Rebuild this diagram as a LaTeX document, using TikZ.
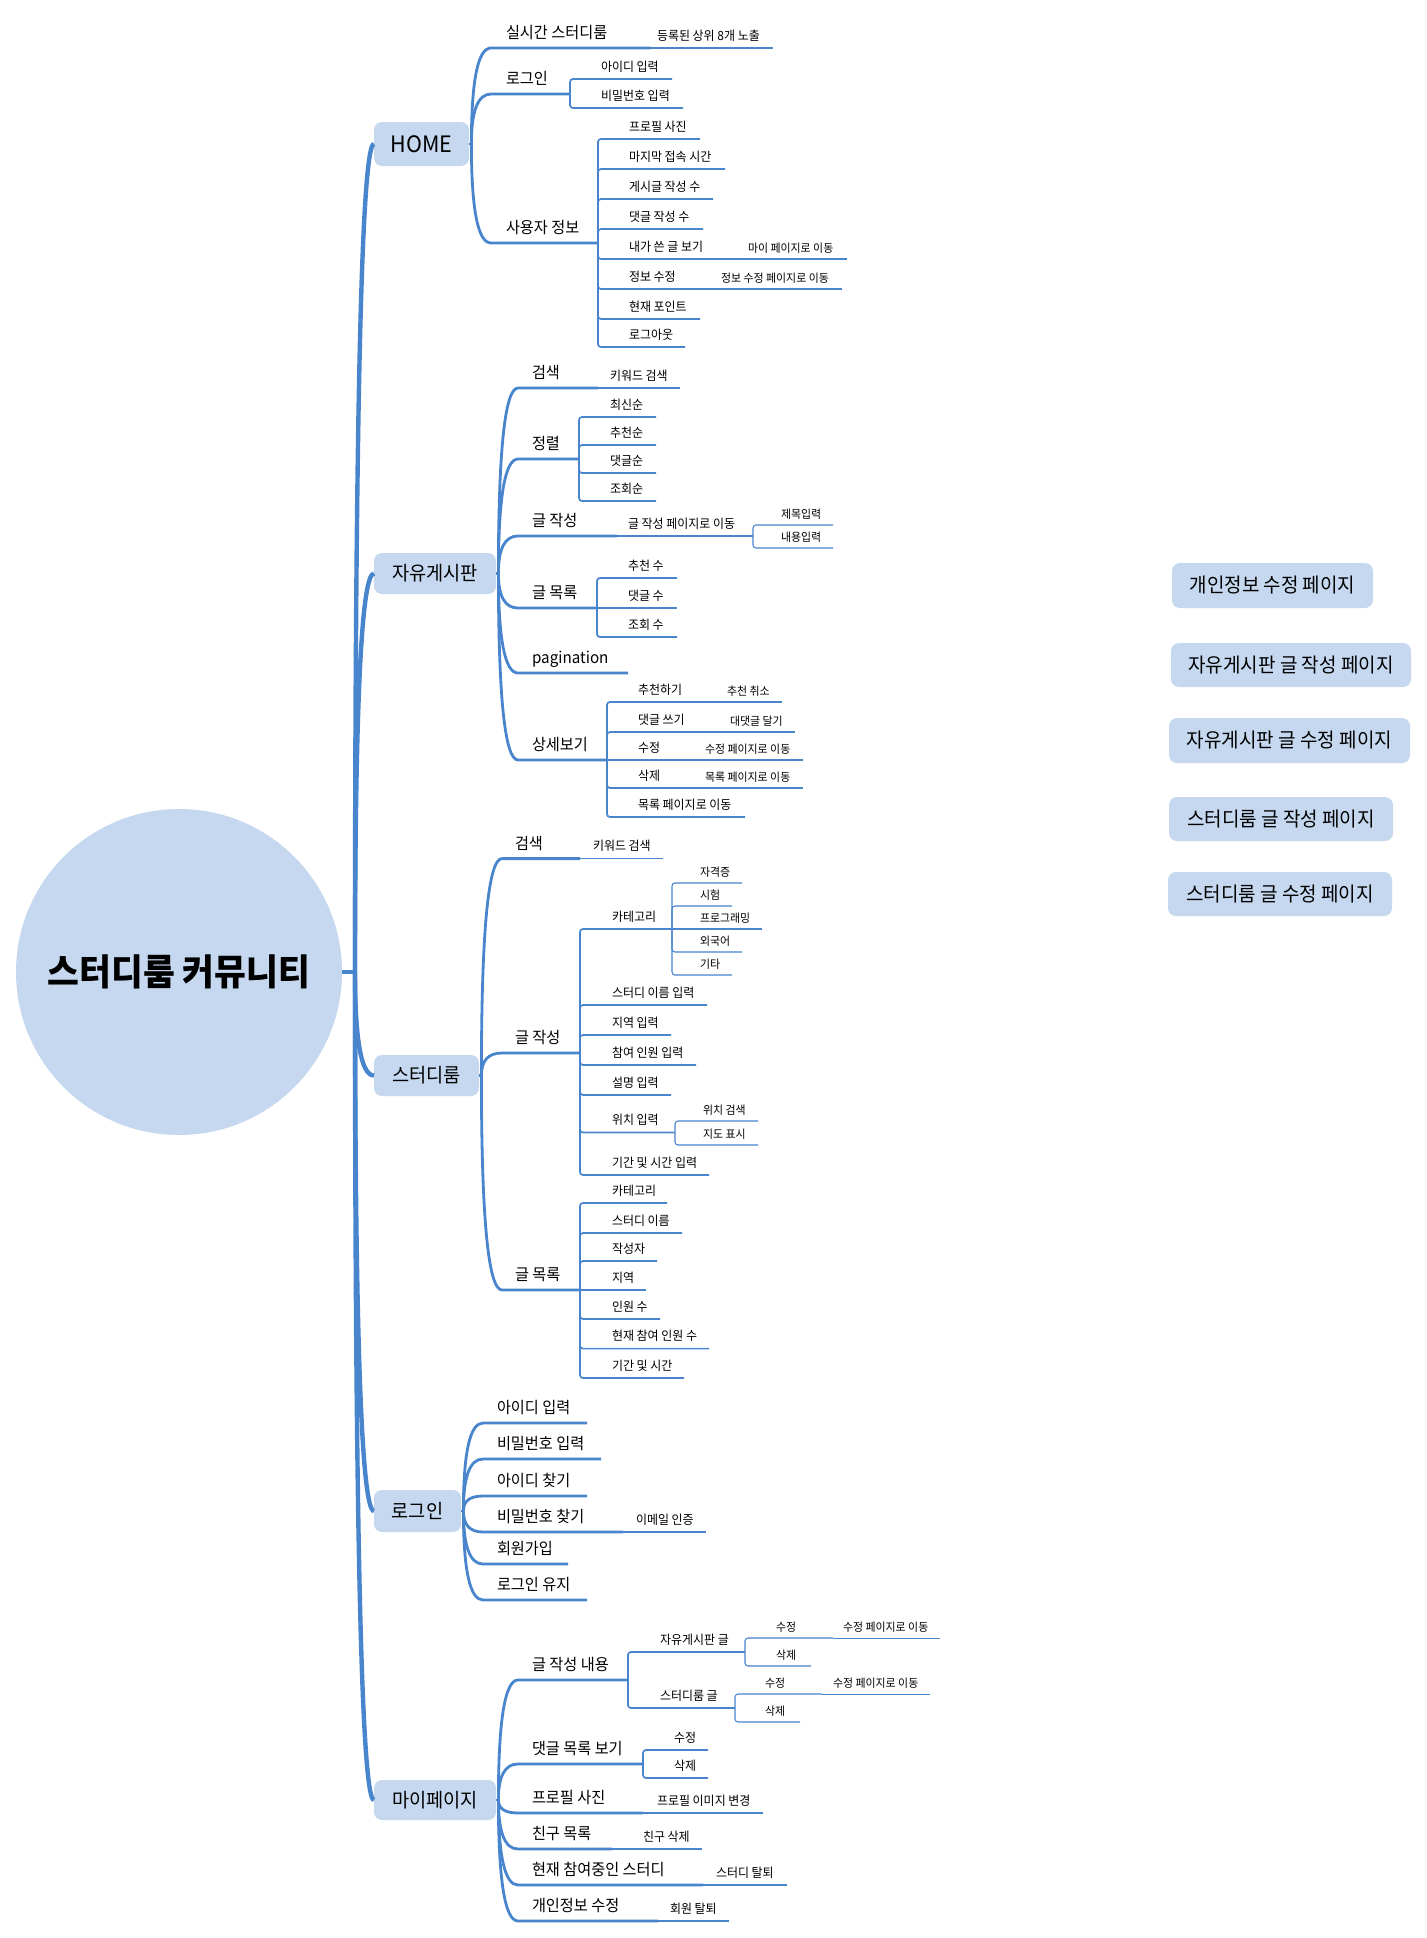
\documentclass[tikz,border=0pt]{standalone}
\usepackage{fontspec}
\setmainfont{Noto Sans CJK KR}[FakeStretch=0.95]
\usetikzlibrary{calc}
\definecolor{branchblue}{RGB}{72,133,205}
\definecolor{topicfill}{RGB}{197,216,239}

% main branch: smooth curve from a parent point into a child, then its underline
\newcommand\mmmain[7]{% from, name, curve end x, y, underline end x, text x, text
  \coordinate (#2-a) at (#3,#4);
  \coordinate (#2-b) at (#5,#4);
  \node[t2] (#2) at (#6,#4) {#7};
  \path[w2] let \p1=(#1), \p2=(#2-a) in
    (\p1) .. controls (\x1,{\y1+0.667*(\y2-\y1)}) and ({\x1+0.333*(\x2-\x1)},\y2) .. (\p2) -- (#2-b);}
% sub branch: vertical spine with a rounded elbow into the underline
\newcommand\mmelbow[8]{% from, name, text style, line style, y, end x, text x, text
  \coordinate (#2-b) at (#6,#5);
  \node[#3] (#2) at (#7,#5) {#8};
  \draw[#4, rounded corners=1.5pt] (#1) |- (#2-b);}
% straight continuation on the same level
\newcommand\mmtail[8]{% from, name, text style, line style, y, end x, text x, text
  \coordinate (#2-b) at (#6,#5);
  \node[#3] (#2) at (#7,#5) {#8};
  \draw[#4] (#1) -- (#2-b);}
% trunk curve from the central topic into a main topic box
\newcommand\mmtrunk[2]{%
  \path[w1] let \p1=(#1), \p2=(#2) in
    (\p1) .. controls (\x1,{\y1+0.667*(\y2-\y1)}) and ({\x1+0.333*(\x2-\x1)},\y2) .. (\p2);}

\begin{document}
\begin{tikzpicture}[
  x=0.5pt, y=-0.5pt,
  every node/.style={inner sep=0pt, outer sep=0pt, text=black},
  t2/.style={font=\fontsize{8pt}{9pt}\selectfont, anchor=base west, yshift=4.75pt},
  t3/.style={font=\fontsize{6.3pt}{7pt}\selectfont, anchor=base west, yshift=4pt},
  t4/.style={font=\fontsize{5.75pt}{6.5pt}\selectfont, anchor=base west, yshift=3.5pt},
  topic/.style={font=\fontsize{9.8pt}{11pt}\selectfont, fill=topicfill, rounded corners=4pt},
  pagebox/.style={font=\fontsize{10pt}{11pt}\selectfont, fill=topicfill, rounded corners=4pt},
  w1/.style={draw=branchblue, line width=2.2pt},
  w2/.style={draw=branchblue, line width=1.4pt},
  w3/.style={draw=branchblue, line width=0.85pt},
  w4/.style={draw=branchblue, line width=0.55pt},
  w5/.style={draw=branchblue, line width=0.45pt},
]
\fill[white] (0,0) rectangle (1427,1938);
\useasboundingbox (0,0) rectangle (1427,1938);

% central topic
\node[circle, fill=topicfill, minimum size=163pt,
      font=\bfseries\fontsize{18.2pt}{20pt}\selectfont] (root) at (179,972) {스터디룸 커뮤니티};
\coordinate (trunk) at (355,972);

% main topics
\node[topic, minimum width=47.5pt, minimum height=22pt, font=\fontsize{11.3pt}{12pt}\selectfont] (home) at (421.5,144) {HOME};
\node[topic, minimum width=61pt, minimum height=20.5pt] (free) at (435,573.5) {자유게시판};
\node[topic, minimum width=52.5pt, minimum height=20.5pt] (study) at (426.5,1075.5) {스터디룸};
\node[topic, minimum width=43.5pt, minimum height=21pt] (login) at (417.5,1511) {로그인};
\node[topic, minimum width=61pt, minimum height=20pt] (mypage) at (435,1800) {마이페이지};

\draw[w1] (root.east) -- (trunk);
\mmtrunk{trunk}{home.west}
\mmtrunk{trunk}{free.west}
\mmtrunk{trunk}{study.west}
\mmtrunk{trunk}{login.west}
\mmtrunk{trunk}{mypage.west}

\foreach \t in {home,free,study,login,mypage}{
  \coordinate (\t-s) at ([xshift=1.2pt]\t.east);
  \draw[w2] (\t.east) -- (\t-s);
}

% HOME
\mmmain{home-s}{rt}{491}{48}{650}{506}{실시간 스터디룸}
\mmtail{rt-b}{rtx}{t3}{w4}{48}{773}{657}{등록된 상위 8개 노출}
\mmmain{home-s}{hl}{491}{94}{570}{506}{로그인}
\mmelbow{hl-b}{hlid}{t3}{w3}{79}{672}{601}{아이디 입력}
\mmelbow{hl-b}{hlpw}{t3}{w3}{108}{683}{601}{비밀번호 입력}
\mmmain{home-s}{ui}{491}{243}{598}{506}{사용자 정보}
\mmelbow{ui-b}{ui1}{t3}{w3}{139}{700}{629}{프로필 사진}
\mmelbow{ui-b}{ui2}{t3}{w3}{169}{725}{629}{마지막 접속 시간}
\mmelbow{ui-b}{ui3}{t3}{w3}{199}{713}{629}{게시글 작성 수}
\mmelbow{ui-b}{ui4}{t3}{w3}{229}{703}{629}{댓글 작성 수}
\mmelbow{ui-b}{ui5}{t3}{w3}{259}{740}{629}{내가 쓴 글 보기}
\mmtail{ui5-b}{ui5x}{t4}{w4}{259}{847}{748}{마이 페이지로 이동}
\mmelbow{ui-b}{ui6}{t3}{w3}{289}{710}{629}{정보 수정}
\mmtail{ui6-b}{ui6x}{t4}{w4}{289}{842}{721}{정보 수정 페이지로 이동}
\mmelbow{ui-b}{ui7}{t3}{w3}{319}{700}{629}{현재 포인트}
\mmelbow{ui-b}{ui8}{t3}{w3}{347}{685}{629}{로그아웃}

% free board
\mmmain{free-s}{fs}{518}{388}{598}{532}{검색}
\mmtail{fs-b}{fsx}{t3}{w3}{388}{680}{610}{키워드 검색}
\mmmain{free-s}{fo}{518}{459}{579}{532}{정렬}
\mmelbow{fo-b}{fo1}{t3}{w3}{417}{656}{610}{최신순}
\mmelbow{fo-b}{fo2}{t3}{w3}{445}{656}{610}{추천순}
\mmelbow{fo-b}{fo3}{t3}{w3}{473}{656}{610}{댓글순}
\mmelbow{fo-b}{fo4}{t3}{w3}{501}{656}{610}{조회순}
\mmmain{free-s}{fw}{518}{536}{617}{532}{글 작성}
\mmtail{fw-b}{fwx}{t3}{w3}{536}{753}{628}{글 작성 페이지로 이동}
\mmelbow{fwx-b}{fw1}{t4}{w4}{525}{833}{781}{제목입력}
\mmelbow{fwx-b}{fw2}{t4}{w4}{548}{833}{781}{내용입력}
\mmmain{free-s}{fl}{518}{608}{597}{532}{글 목록}
\mmelbow{fl-b}{fl1}{t3}{w3}{578}{677}{628}{추천 수}
\mmtail{fl-b}{fl2}{t3}{w3}{608}{677}{628}{댓글 수}
\mmelbow{fl-b}{fl3}{t3}{w3}{637}{677}{628}{조회 수}
\mmmain{free-s}{fp}{518}{673}{628}{532}{pagination}
\mmmain{free-s}{fd}{518}{760}{607}{532}{상세보기}
\mmelbow{fd-b}{fd1}{t3}{w3}{702}{718}{638}{추천하기}
\mmtail{fd1-b}{fd1x}{t4}{w4}{702}{782}{727}{추천 취소}
\mmelbow{fd-b}{fd2}{t3}{w3}{732}{719}{638}{댓글 쓰기}
\mmtail{fd2-b}{fd2x}{t4}{w4}{732}{795}{730}{대댓글 달기}
\mmtail{fd-b}{fd3}{t3}{w3}{760}{693}{638}{수정}
\mmtail{fd3-b}{fd3x}{t4}{w4}{760}{803}{705}{수정 페이지로 이동}
\mmelbow{fd-b}{fd4}{t3}{w3}{788}{693}{638}{삭제}
\mmtail{fd4-b}{fd4x}{t4}{w4}{788}{803}{705}{목록 페이지로 이동}
\mmelbow{fd-b}{fd5}{t3}{w3}{817}{745}{638}{목록 페이지로 이동}

% study room
\mmmain{study-s}{ss}{502}{858.6}{580}{515}{검색}
\mmtail{ss-b}{ssx}{t3}{w3}{858.6}{663}{593}{키워드 검색}
\mmmain{study-s}{sw}{502}{1053}{580}{515}{글 작성}
\mmelbow{sw-b}{sw1}{t3}{w3}{929}{672}{612}{카테고리}
\mmelbow{sw1-b}{sc1}{t4}{w4}{883}{742}{700}{자격증}
\mmelbow{sw1-b}{sc2}{t4}{w4}{906}{732}{700}{시험}
\mmtail{sw1-b}{sc3}{t4}{w4}{929}{762}{700}{프로그래밍}
\mmelbow{sw1-b}{sc4}{t4}{w4}{952}{742}{700}{외국어}
\mmelbow{sw1-b}{sc5}{t4}{w4}{975}{732}{700}{기타}
\mmelbow{sw-b}{sw2}{t3}{w3}{1005}{707}{612}{스터디 이름 입력}
\mmelbow{sw-b}{sw3}{t3}{w3}{1035}{671}{612}{지역 입력}
\mmelbow{sw-b}{sw4}{t3}{w3}{1065}{696}{612}{참여 인원 입력}
\mmelbow{sw-b}{sw5}{t3}{w3}{1095}{671}{612}{설명 입력}
\mmelbow{sw-b}{sw6}{t3}{w3}{1132.5}{675}{612}{위치 입력}
\mmelbow{sw6-b}{sp1}{t4}{w4}{1121}{758}{703}{위치 검색}
\mmelbow{sw6-b}{sp2}{t4}{w4}{1145}{758}{703}{지도 표시}
\mmelbow{sw-b}{sw7}{t3}{w3}{1175}{709}{612}{기간 및 시간 입력}
\mmmain{study-s}{sl}{502}{1290}{580}{515}{글 목록}
\mmelbow{sl-b}{sg1}{t3}{w3}{1203}{667}{612}{카테고리}
\mmelbow{sl-b}{sg2}{t3}{w3}{1233}{682}{612}{스터디 이름}
\mmelbow{sl-b}{sg3}{t3}{w3}{1261}{657}{612}{작성자}
\mmtail{sl-b}{sg4}{t3}{w3}{1290}{646}{612}{지역}
\mmelbow{sl-b}{sg5}{t3}{w3}{1319}{660}{612}{인원 수}
\mmelbow{sl-b}{sg6}{t3}{w3}{1348.6}{709}{612}{현재 참여 인원 수}
\mmelbow{sl-b}{sg7}{t3}{w3}{1378}{684}{612}{기간 및 시간}

% login
\mmmain{login-s}{l1}{483}{1423}{587}{497}{아이디 입력}
\mmmain{login-s}{l2}{483}{1459}{601}{497}{비밀번호 입력}
\mmmain{login-s}{l3}{483}{1496}{587}{497}{아이디 찾기}
\mmmain{login-s}{l4}{483}{1532}{623}{497}{비밀번호 찾기}
\mmtail{l4-b}{l4x}{t3}{w3}{1532}{706}{636}{이메일 인증}
\mmmain{login-s}{l5}{483}{1564}{568}{497}{회원가입}
\mmmain{login-s}{l6}{483}{1600}{587}{497}{로그인 유지}

% my page
\mmmain{mypage-s}{mw}{518}{1680}{628}{532}{글 작성 내용}
\mmelbow{mw-b}{mw1}{t3}{w3}{1652}{745}{660}{자유게시판 글}
\mmelbow{mw1-b}{mw1a}{t4}{w4}{1638}{833}{776}{수정}
\mmtail{mw1a-b}{mw1ax}{t4}{w5}{1638}{940}{843}{수정 페이지로 이동}
\mmelbow{mw1-b}{mw1b}{t4}{w4}{1666}{811}{776}{삭제}
\mmelbow{mw-b}{mw2}{t3}{w3}{1708}{735}{660}{스터디룸 글}
\mmelbow{mw2-b}{mw2a}{t4}{w4}{1694}{822}{765}{수정}
\mmtail{mw2a-b}{mw2ax}{t4}{w5}{1694}{930}{833}{수정 페이지로 이동}
\mmelbow{mw2-b}{mw2b}{t4}{w4}{1722}{800}{765}{삭제}
\mmmain{mypage-s}{mc}{518}{1764}{643}{532}{댓글 목록 보기}
\mmelbow{mc-b}{mc1}{t3}{w3}{1750}{708}{674}{수정}
\mmelbow{mc-b}{mc2}{t3}{w3}{1778}{708}{674}{삭제}
\mmmain{mypage-s}{mp}{518}{1813}{643}{532}{프로필 사진}
\mmtail{mp-b}{mpx}{t3}{w3}{1813}{763}{657}{프로필 이미지 변경}
\mmmain{mypage-s}{mf}{518}{1849}{612}{532}{친구 목록}
\mmtail{mf-b}{mfx}{t3}{w3}{1849}{702}{643}{친구 삭제}
\mmmain{mypage-s}{ms}{518}{1885}{703}{532}{현재 참여중인 스터디}
\mmtail{ms-b}{msx}{t3}{w3}{1885}{787}{716}{스터디 탈퇴}
\mmmain{mypage-s}{me}{518}{1921}{658}{532}{개인정보 수정}
\mmtail{me-b}{mex}{t3}{w3}{1921}{729}{670}{회원 탈퇴}

% page list
\node[pagebox, minimum width=100.5pt, minimum height=22.5pt] (pg1) at (1272.5,585.5) {개인정보 수정 페이지};
\node[pagebox, minimum width=120pt, minimum height=22pt] (pg2) at (1291,665) {자유게시판 글 작성 페이지};
\node[pagebox, minimum width=120.5pt, minimum height=22.5pt] (pg3) at (1289.5,740.5) {자유게시판 글 수정 페이지};
\node[pagebox, minimum width=112pt, minimum height=22pt] (pg4) at (1281,819) {스터디룸 글 작성 페이지};
\node[pagebox, minimum width=112pt, minimum height=22pt] (pg5) at (1280,894) {스터디룸 글 수정 페이지};
\end{tikzpicture}
\end{document}
